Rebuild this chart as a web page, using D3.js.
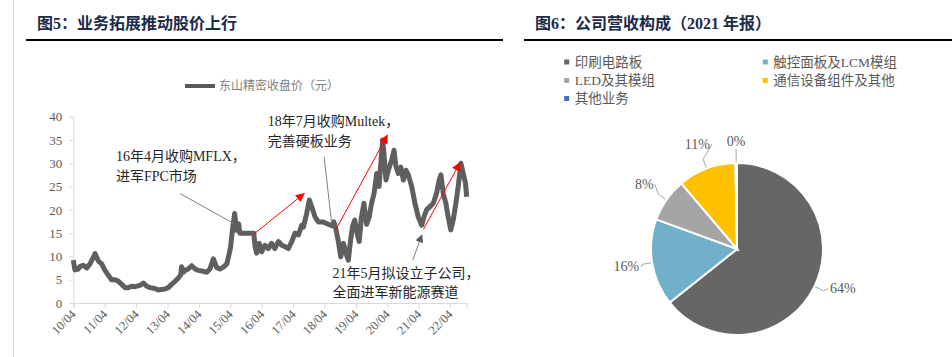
<!DOCTYPE html>
<html><head><meta charset="utf-8">
<script src="https://cdn.jsdelivr.net/npm/d3@7"></script>
<style>body{margin:0;background:#fff} svg{display:block}</style>
</head><body><svg id="c" width="952" height="357"></svg>
<script>
// ---------------- DATA ----------------
const priceDates = [
"2010-04-01","2010-04-20","2010-05-28","2010-06-15","2010-07-25","2010-09-05","2010-10-12","2010-11-20","2010-12-10",
"2011-01-18","2011-02-25","2011-04-05","2011-05-12","2011-06-20","2011-07-30","2011-09-05","2011-10-15","2011-11-25",
"2012-01-01","2012-02-10","2012-03-18","2012-05-15","2012-06-25","2012-08-02","2012-09-10","2012-11-06","2012-12-15",
"2013-01-22","2013-03-02","2013-04-10","2013-05-18","2013-06-25","2013-08-03","2013-09-01","2013-09-12","2013-10-01","2013-10-22","2013-11-28",
"2014-01-08","2014-02-17","2014-03-25","2014-05-22","2014-07-01","2014-08-08","2014-09-16","2014-10-26","2014-12-02",
"2015-01-10","2015-02-20","2015-03-10","2015-04-05","2015-04-30","2015-05-22","2015-06-14","2015-07-08","2015-07-22","2015-12-31",
"2016-01-15","2016-02-02","2016-03-03","2016-04-01","2016-05-08","2016-06-16","2016-07-25","2016-09-02","2016-10-12","2016-11-20","2016-12-28",
"2017-02-05","2017-03-17","2017-04-23","2017-06-02","2017-07-10","2017-07-30","2017-09-06","2017-10-07","2017-11-03","2017-12-12",
"2018-01-20","2018-03-18","2018-05-15","2018-06-25","2018-07-20","2018-08-14","2018-09-10","2018-10-08","2018-11-08","2018-12-08",
"2019-01-04","2019-01-30","2019-02-24","2019-03-20","2019-04-16","2019-05-10","2019-06-06","2019-07-04","2019-08-04","2019-09-04","2019-10-01","2019-10-30","2019-11-30","2019-12-27",
"2020-01-20","2020-02-08","2020-02-22","2020-03-17","2020-04-13","2020-05-22","2020-06-18","2020-07-12","2020-08-09","2020-09-05","2020-10-05","2020-11-05","2020-12-02",
"2021-01-10","2021-02-17","2021-03-27","2021-05-06","2021-06-02","2021-07-02","2021-08-10","2021-09-18","2021-10-26","2021-11-26","2021-12-16",
"2022-01-12","2022-02-12","2022-03-10","2022-04-10","2022-05-08","2022-06-08","2022-07-05","2022-08-06","2022-09-02","2022-09-28","2022-10-12"
];
const priceValues = [
9.2,7.1,7.3,7.8,8.1,7.5,8.4,9.8,10.6,
9.0,8.4,7.0,6.0,5.0,5.0,4.7,4.0,3.3,
3.3,3.6,3.5,3.8,4.3,3.6,3.3,3.1,2.8,
2.9,3.0,3.3,4.0,4.6,5.3,6.0,7.8,6.6,7.0,7.3,
8.0,7.3,7.0,6.8,6.6,7.3,9.5,7.6,7.3,
7.7,8.4,9.8,12.0,16.2,19.2,15.6,17.0,15.0,15.0,
12.1,10.7,12.8,11.0,12.4,11.7,12.8,11.7,13.2,12.4,12.1,
11.7,13.2,15.0,14.6,16.7,16.3,19.2,22.1,20.7,18.5,
17.4,17.4,16.9,16.6,17.4,15.7,13.2,9.9,12.8,10.7,
9.2,13.5,16.6,17.8,15.0,13.2,18.5,21.4,16.9,18.5,21.4,23.5,27.8,25.0,
30.7,35.0,32.1,26.4,28.5,30.7,32.8,29.2,27.8,29.2,26.4,28.5,27.5,
25.0,21.4,18.5,16.7,18.5,20.0,20.7,21.4,23.5,26.4,27.5,
23.5,21.4,18.5,15.7,17.8,21.4,25.0,30.0,27.8,25.7,22.8
];
const seriesName = "东山精密收盘价（元）";
const yTicks = [0,5,10,15,20,25,30,35,40];
const xTickDates = ["2010-04-01","2011-04-01","2012-04-01","2013-04-01","2014-04-01","2015-04-01","2016-04-01",
  "2017-04-01","2018-04-01","2019-04-01","2020-04-01","2021-04-01","2022-04-01"];

// annotations (date, value)
const annoTexts = [
  {lines:["16年4月收购MFLX，","进军FPC市场"], date:"2011-08-10", value:31.4},
  {lines:["18年7月收购Multek，","完善硬板业务"], date:"2016-06-10", value:38.9},
  {lines:["21年5月拟设立子公司，","全面进军新能源赛道"], date:"2018-07-05", value:6.4}
];
const redArrows = [
  ["2016-01-01",14.8,"2017-08-08",23.5],
  ["2018-08-10",15.7,"2020-04-01",36.0],
  ["2021-05-26",15.8,"2022-07-26",30.1]
];
const greyLeaders = [
  ["2013-08-25",23.5,"2015-05-08",17.1,false],
  ["2018-03-28",31.4,"2018-06-24",17.1,false],
  ["2021-01-22",9.2,"2021-05-08",14.6,true]
];

const pieCategories = ["印刷电路板","触控面板及LCM模组","LED及其模组","通信设备组件及其他","其他业务"];
const pieValues = [64.3,16.3,8.2,10.9,0.3];
const pieLabels = ["64%","16%","8%","11%","0%"];
const pieColors = ["#666666","#70b0cb","#a5a5a5","#ffc000","#4472c4"];

// ---------------- DRAW ----------------
const svg = d3.select("#c");
const serif = "'Liberation Serif','Times New Roman','Noto Sans CJK SC',serif";
const txtGrey = "#595959";
const parse = d3.timeParse("%Y-%m-%d");

// frame elements
svg.append("line").attr("x1",13.5).attr("x2",13.5).attr("y1",0).attr("y2",357).attr("stroke","#d9d9d9").attr("stroke-width",1);
svg.append("line").attr("x1",26).attr("x2",503).attr("y1",40).attr("y2",40).attr("stroke","#000").attr("stroke-width",2);
svg.append("line").attr("x1",524).attr("x2",952).attr("y1",40).attr("y2",40).attr("stroke","#000").attr("stroke-width",2);

svg.append("text").attr("x",37).attr("y",23).attr("dominant-baseline","central")
  .attr("font-family",serif).attr("font-weight","bold").attr("font-size",16).attr("fill","#1c2b48")
  .text("图5：业务拓展推动股价上行");
svg.append("text").attr("x",535).attr("y",23).attr("dominant-baseline","central")
  .attr("font-family",serif).attr("font-weight","bold").attr("font-size",16).attr("fill","#1c2b48")
  .text("图6：公司营收构成（2021 年报）");

// left chart
const x = d3.scaleTime().domain([parse("2010-04-01"), parse("2022-10-12")]).range([73.3, 466.7]);
const y = d3.scaleLinear().domain([0,40]).range([303,116.7]);

const gy = svg.append("g").attr("transform","translate(73.3,0)")
  .call(d3.axisLeft(y).tickValues(yTicks).tickSize(4).tickPadding(7).tickFormat(d3.format("d")));
gy.select(".domain").attr("stroke","#d9d9d9");
gy.selectAll(".tick line").attr("stroke","#d9d9d9");
gy.selectAll("text").attr("font-family",serif).attr("font-size",13).attr("fill",txtGrey);

const gx = svg.append("g").attr("transform","translate(0,303)")
  .call(d3.axisBottom(x).tickValues(xTickDates.map(parse)).tickSize(5).tickFormat(d3.timeFormat("%y/%m")));
gx.select(".domain").attr("stroke","#d9d9d9");
gx.selectAll(".tick line").attr("stroke","#d9d9d9");
gx.selectAll("text").attr("font-family",serif).attr("font-size",12.5).attr("fill",txtGrey)
  .attr("text-anchor","end").attr("dy",0).attr("y",0)
  .attr("transform","translate(3,12) rotate(-45)");

// legend
svg.append("line").attr("x1",185).attr("x2",215).attr("y1",86).attr("y2",86).attr("stroke","#595959").attr("stroke-width",4);
svg.append("text").attr("x",219).attr("y",86).attr("dominant-baseline","central")
  .attr("font-family",serif).attr("font-size",12).attr("fill","#7f7f7f").text(seriesName);

// price line
const pts = priceDates.map((d,i)=>({d:parse(d), v:priceValues[i]}));
svg.append("path").datum(pts)
  .attr("fill","none").attr("stroke","#5f5f5f").attr("stroke-width",5).attr("stroke-linejoin","round")
  .attr("d", d3.line().x(p=>x(p.d)).y(p=>y(p.v)));

// markers
const defs = svg.append("defs");
defs.append("marker").attr("id","ar").attr("viewBox","0 0 10 10").attr("refX",9).attr("refY",5)
  .attr("markerWidth",10).attr("markerHeight",9).attr("markerUnits","userSpaceOnUse").attr("orient","auto")
  .append("path").attr("d","M0,0L10,5L0,10Z").attr("fill","#ff0000");
defs.append("marker").attr("id","ag").attr("viewBox","0 0 10 10").attr("refX",9).attr("refY",5)
  .attr("markerWidth",9).attr("markerHeight",8).attr("markerUnits","userSpaceOnUse").attr("orient","auto")
  .append("path").attr("d","M0,0L10,5L0,10Z").attr("fill","#595959");

redArrows.forEach(a=>{
  svg.append("line").attr("x1",x(parse(a[0]))).attr("y1",y(a[1])).attr("x2",x(parse(a[2]))).attr("y2",y(a[3]))
    .attr("stroke","#ff0000").attr("stroke-width",1).attr("marker-end","url(#ar)");
});
greyLeaders.forEach(a=>{
  const l = svg.append("line").attr("x1",x(parse(a[0]))).attr("y1",y(a[1])).attr("x2",x(parse(a[2]))).attr("y2",y(a[3]))
    .attr("stroke","#7f7f7f").attr("stroke-width",1);
  if(a[4]) l.attr("marker-end","url(#ag)");
});
annoTexts.forEach(t=>{
  const tx = svg.append("text").attr("font-family",serif).attr("font-size",14).attr("fill","#262626");
  t.lines.forEach((ln,i)=>{
    tx.append("tspan").attr("x",x(parse(t.date))).attr("y",y(t.value)+i*19.5).attr("dominant-baseline","central").text(ln);
  });
});

// right chart legend
const legCols = [566.7, 765.3];
const legRows = [62, 80.5, 98.5];
pieCategories.forEach((c,i)=>{
  const cx = legCols[i%2], cy = legRows[Math.floor(i/2)];
  svg.append("rect").attr("x",cx-2.5).attr("y",cy-2.5).attr("width",5).attr("height",5).attr("fill",pieColors[i]);
  svg.append("text").attr("x",cx+8).attr("y",cy).attr("dominant-baseline","central")
    .attr("font-family",serif).attr("font-size",13.5).attr("fill",txtGrey).text(c);
});

// pie
const pcx = 737, pcy = 249, R = 86;
const pie = d3.pie().sort(null).value(d=>d)(pieValues);
const arc = d3.arc().innerRadius(0).outerRadius(R);
const gp = svg.append("g").attr("transform",`translate(${pcx},${pcy})`);
gp.selectAll("path").data(pie).join("path").attr("d",arc)
  .attr("fill",(d,i)=>pieColors[i]).attr("stroke","#fff").attr("stroke-width",2);

const labR = [113,112,113,112,108];
const labShift = [-0.09,0,0,0,0];
pie.forEach((d,i)=>{
  const a0 = (d.startAngle+d.endAngle)/2;
  const a = a0 + labShift[i];
  const sx0 = Math.sin(a0), sy0 = -Math.cos(a0);
  const sx = Math.sin(a), sy = -Math.cos(a);
  const lx = sx*labR[i], ly = sy*labR[i];
  const e1x = sx0*(R+1), e1y = sy0*(R+1);
  const e2x = sx0*(R+10), e2y = sy0*(R+10);
  const w = pieLabels[i].length*4.2;
  const endx = lx + (sx>0.3 ? -w-2 : (sx<-0.3 ? w+2 : 0));
  const endy = Math.abs(sx)>0.3 ? ly : ly + 8;
  gp.append("polyline").attr("points",`${e1x},${e1y} ${e2x},${e2y} ${endx},${endy}`)
    .attr("fill","none").attr("stroke","#a6a6a6").attr("stroke-width",1);
  gp.append("text").attr("x",lx).attr("y",ly).attr("text-anchor","middle").attr("dominant-baseline","central")
    .attr("font-family",serif).attr("font-size",14).attr("fill",txtGrey).text(pieLabels[i]);
});
</script></body></html>
